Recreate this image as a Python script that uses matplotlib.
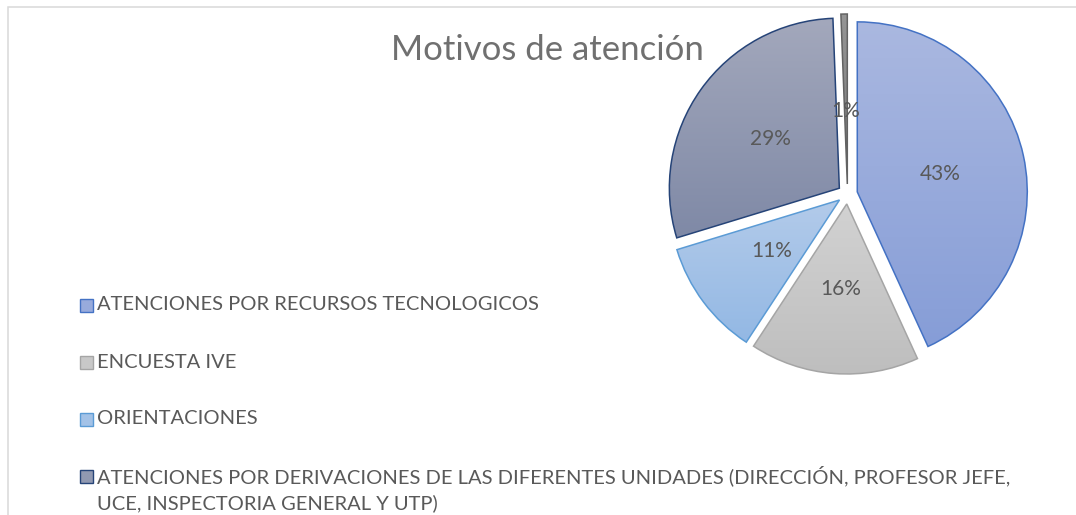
import numpy as np
import matplotlib
matplotlib.use('Agg')
import matplotlib.pyplot as plt
from matplotlib.colors import LinearSegmentedColormap
from matplotlib.patches import Rectangle

plt.rcParams['font.family'] = ['Lato', 'DejaVu Sans']

# === Datos ===
categorias = [
    'ATENCIONES POR RECURSOS TECNOLOGICOS',
    'ENCUESTA IVE',
    'ORIENTACIONES',
    'ATENCIONES POR DERIVACIONES DE LAS DIFERENTES UNIDADES (DIRECCIÓN, PROFESOR JEFE,\nUCE, INSPECTORIA GENERAL Y UTP)',
    'OTROS',
]
porcentajes = [43, 16, 11, 29, 0.6]

# colores (arriba -> abajo del degradado) y borde
color_arriba = ['#AAB8E0', '#D2D2D2', '#B3CBEA', '#A3A8BC', '#959595']
color_abajo = ['#869DD7', '#BEBEBE', '#93B8E4', '#7F89A6', '#7A7A7A']
color_borde = ['#4472C4', '#A5A5A5', '#5B9BD5', '#264478', '#636363']
color_texto = '#595959'

W, H = 1076, 515
fig = plt.figure(figsize=(W / 100, H / 100), dpi=100)
ax = fig.add_axes([0, 0, 1, 1])

centro = (847.5, H - 194)
radio = 170

wedges, _, textos = ax.pie(
    porcentajes,
    startangle=90,
    counterclock=False,
    center=centro,
    radius=radio,
    explode=[10] * len(porcentajes),
    autopct='%1.0f%%',
    pctdistance=0.5,
    wedgeprops=dict(linewidth=1.1),
    textprops=dict(color=color_texto, fontsize=15),
)

# degradado vertical dentro de cada porcion
grad = np.linspace(0, 1, 256).reshape(-1, 1)
for i, w in enumerate(wedges):
    w.set_edgecolor(color_borde[i])
    w.set_facecolor('none')
    w.set_zorder(3)
    ext = w.get_path().get_extents()
    cmap = LinearSegmentedColormap.from_list('g%d' % i, [color_abajo[i], color_arriba[i]])
    img = ax.imshow(grad, cmap=cmap, origin='lower', aspect='auto',
                    extent=(ext.x0, ext.x1, ext.y0, ext.y1), zorder=2)
    img.set_clip_path(w)

for t in textos:
    t.set_zorder(5)

# la etiqueta de la porcion pequena va un poco mas cerca del centro
w = wedges[-1]
tm = np.deg2rad((w.theta1 + w.theta2) / 2)
textos[-1].set_position((w.center[0] + 0.43 * radio * np.cos(tm),
                         w.center[1] + 0.43 * radio * np.sin(tm)))

# titulo
ax.text(547, H - 50, 'Motivos de atención', ha='center', va='center',
        fontsize=25, color='#707070')

# leyenda
y = H - 305
for i, cat in enumerate(categorias):
    mid = [(int(color_arriba[i][k:k + 2], 16) + int(color_abajo[i][k:k + 2], 16)) / 510 for k in (1, 3, 5)]
    ax.add_patch(Rectangle((80, y - 7), 13, 13, facecolor=mid, edgecolor=color_borde[i],
                           linewidth=1.0, clip_on=False, zorder=4))
    lineas = cat.split('\n')
    ax.text(97, y, lineas[0], ha='left', va='center', fontsize=14.5, color=color_texto)
    if len(lineas) > 1:
        ax.text(97, y - 27, lineas[1], ha='left', va='center', fontsize=14.5, color=color_texto)
        y -= 27
    y -= 57

# marco del grafico (recortado a la derecha y abajo)
ax.add_patch(Rectangle((7.5, -20), W + 20, H - 6.5 + 20, fill=False,
                       edgecolor='#D9D9D9', linewidth=1.1, clip_on=False, zorder=1))

ax.set_xlim(0, W)
ax.set_ylim(0, H)
ax.axis('off')

fig.savefig('out.png', dpi=100)
